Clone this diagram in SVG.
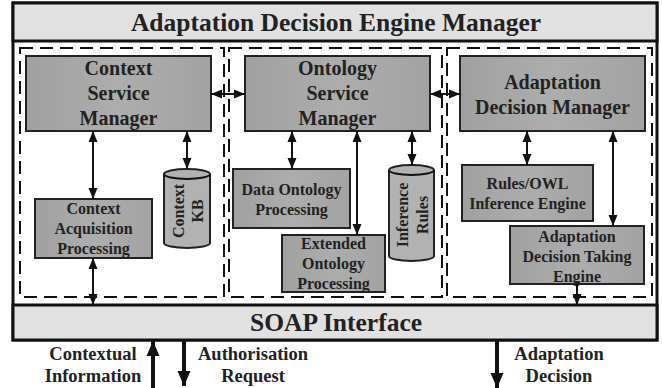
<svg xmlns="http://www.w3.org/2000/svg" width="662" height="388" viewBox="0 0 662 388">
<defs>
<linearGradient id="g" x1="0" y1="0" x2="1" y2="0">
<stop offset="0" stop-color="#a0a0a0"/><stop offset="0.5" stop-color="#adadad"/><stop offset="1" stop-color="#a2a2a2"/>
</linearGradient>
<marker id="a" markerUnits="userSpaceOnUse" markerWidth="12" markerHeight="12" viewBox="0 0 12 12" refX="11" refY="6" orient="auto-start-reverse">
<path d="M0,1.5 L11,6 L0,10.5 Z" fill="#111"/>
</marker>
<marker id="b" markerUnits="userSpaceOnUse" markerWidth="16" markerHeight="16" viewBox="0 0 16 16" refX="15" refY="8" orient="auto-start-reverse">
<path d="M0,1.5 L15,8 L0,14.5 Z" fill="#111"/>
</marker>
<style>
text{font-family:"Liberation Serif","Times New Roman",serif;font-weight:bold;fill:#222;text-anchor:middle}
.big{font-size:25.5px}
.mid{font-size:20px}
.sm{font-size:16px}
.lab{font-size:18.5px}
.box{fill:url(#g);stroke:#222;stroke-width:2}
.band{fill:#e1e1e1;stroke:#111;stroke-width:3}
.dash{fill:none;stroke:#111;stroke-width:2;stroke-dasharray:13 7}
.cyl{fill:#b2b2b2;stroke:#222;stroke-width:2}
.c{fill:none;stroke:#111;stroke-width:2}
.cb{fill:none;stroke:#111;stroke-width:4}
</style>
</defs>
<g id="outer">
<rect x="13" y="3" width="644" height="337" fill="#fff" stroke="#111" stroke-width="3"/>
</g>
<g id="title">
<rect class="band" x="13" y="3" width="644" height="38"/>
<text class="big" x="336" y="31">Adaptation Decision Engine Manager</text>
</g>
<g id="soap">
<rect class="band" x="13" y="305" width="644" height="35"/>
<text class="big" x="336" y="331">SOAP Interface</text>
</g>
<g id="regions">
<rect class="dash" x="20" y="48" width="204" height="249"/>
<rect class="dash" x="229" y="48" width="213" height="249"/>
<rect class="dash" x="447" y="48" width="205" height="249"/>
</g>
<g id="csm">
<rect class="box" x="26" y="56" width="185" height="75"/>
<text class="mid" x="118.5" y="75">Context</text>
<text class="mid" x="118.5" y="100">Service</text>
<text class="mid" x="118.5" y="125">Manager</text>
</g>
<g id="osm">
<rect class="box" x="245" y="56" width="185" height="75"/>
<text class="mid" x="337.5" y="75">Ontology</text>
<text class="mid" x="337.5" y="100">Service</text>
<text class="mid" x="337.5" y="125">Manager</text>
</g>
<g id="adm">
<rect class="box" x="460" y="56" width="185" height="75"/>
<text class="mid" x="552.5" y="89">Adaptation</text>
<text class="mid" x="552.5" y="114">Decision Manager</text>
</g>
<g id="cap">
<rect class="box" x="35" y="199" width="117" height="59"/>
<text class="sm" x="93.5" y="214">Context</text>
<text class="sm" x="93.5" y="234">Acquisition</text>
<text class="sm" x="93.5" y="254">Processing</text>
</g>
<g id="ckb">
<path class="cyl" d="M164,174 L164,243 A23,5 0 0 0 210,243 L210,174 A23,5 0 0 0 164,174 Z"/>
<path class="c" d="M164,174 A23,5 0 0 0 210,174"/>
<text class="sm" transform="translate(183.5,211) rotate(-90)">Context</text>
<text class="sm" transform="translate(202.5,211) rotate(-90)">KB</text>
</g>
<g id="dop">
<rect class="box" x="233" y="169" width="117" height="59"/>
<text class="sm" x="291.5" y="195">Data Ontology</text>
<text class="sm" x="291.5" y="215">Processing</text>
</g>
<g id="eop">
<rect class="box" x="282" y="235" width="103" height="57"/>
<text class="sm" x="333.5" y="249">Extended</text>
<text class="sm" x="333.5" y="269">Ontology</text>
<text class="sm" x="333.5" y="289">Processing</text>
</g>
<g id="ir">
<path class="cyl" d="M389,170 L389,256 A22.5,5 0 0 0 434,256 L434,170 A22.5,5 0 0 0 389,170 Z"/>
<path class="c" d="M389,170 A22.5,5 0 0 0 434,170"/>
<text class="sm" transform="translate(407.5,215) rotate(-90)">Inference</text>
<text class="sm" transform="translate(427.5,215) rotate(-90)">Rules</text>
</g>
<g id="owl">
<rect class="box" x="462" y="165" width="131" height="56"/>
<text class="sm" x="527.5" y="189">Rules/OWL</text>
<text class="sm" x="527.5" y="209">Inference Engine</text>
</g>
<g id="adte">
<rect class="box" x="510" y="226" width="134" height="58"/>
<text class="sm" x="577" y="242">Adaptation</text>
<text class="sm" x="577" y="262">Decision Taking</text>
<text class="sm" x="577" y="282">Engine</text>
</g>
<g id="inputs">
<text class="lab" x="93" y="360">Contextual</text>
<text class="lab" x="93" y="382">Information</text>
<text class="lab" x="253" y="360">Authorisation</text>
<text class="lab" x="253" y="382">Request</text>
<text class="lab" x="559" y="360">Adaptation</text>
<text class="lab" x="559" y="382">Decision</text>
</g>
<g id="connectors">
<line class="c" x1="211" y1="94" x2="245" y2="94" marker-start="url(#a)" marker-end="url(#a)"/>
<line class="c" x1="430" y1="94" x2="460" y2="94" marker-start="url(#a)" marker-end="url(#a)"/>
<line class="c" x1="93" y1="131" x2="93" y2="199" marker-start="url(#a)" marker-end="url(#a)"/>
<line class="c" x1="93" y1="258" x2="93" y2="305" marker-start="url(#a)" marker-end="url(#a)"/>
<line class="c" x1="187" y1="131" x2="187" y2="169" marker-start="url(#a)" marker-end="url(#a)"/>
<line class="c" x1="292" y1="131" x2="292" y2="169" marker-start="url(#a)" marker-end="url(#a)"/>
<line class="c" x1="357" y1="131" x2="357" y2="235" marker-start="url(#a)" marker-end="url(#a)"/>
<line class="c" x1="412" y1="131" x2="412" y2="165" marker-start="url(#a)" marker-end="url(#a)"/>
<line class="c" x1="527" y1="131" x2="527" y2="165" marker-start="url(#a)" marker-end="url(#a)"/>
<line class="c" x1="613" y1="131" x2="613" y2="226" marker-start="url(#a)" marker-end="url(#a)"/>
<line class="c" x1="577" y1="284" x2="577" y2="305" marker-end="url(#a)"/>
<line class="cb" x1="153" y1="388" x2="153" y2="341" marker-end="url(#b)"/>
<line class="cb" x1="184" y1="341" x2="184" y2="386" marker-end="url(#b)"/>
<line class="cb" x1="497" y1="341" x2="497" y2="388" marker-end="url(#b)"/>
</g>
</svg>
